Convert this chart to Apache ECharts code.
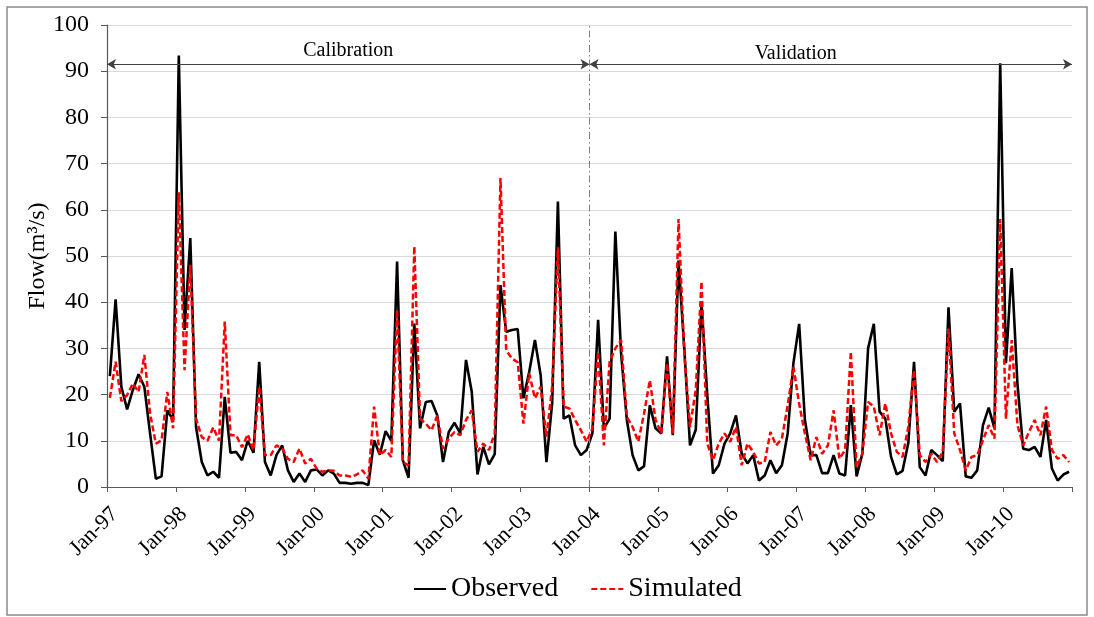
<!DOCTYPE html>
<html>
<head>
<meta charset="utf-8">
<title>Flow</title>
<script src="https://cdn.jsdelivr.net/npm/echarts@6/dist/echarts.min.js"></script>
<style>
  html, body { margin: 0; padding: 0; background: #fff; }
  #chart { width: 1094px; height: 617px; }
</style>
</head>
<body>
<div id="chart"></div>
<script>
// tick labels, one per year (every 12 months)
var yearLabels = ['Jan-97', 'Jan-98', 'Jan-99', 'Jan-00', 'Jan-01', 'Jan-02', 'Jan-03',
  'Jan-04', 'Jan-05', 'Jan-06', 'Jan-07', 'Jan-08', 'Jan-09', 'Jan-10']

// monthly flow, Jan-97 .. Dec-10 (m3/s)
var observed = [
  24, 40.6, 21.7, 16.8, 21, 24.4, 21.7, 11.6, 1.8, 2.3, 16.6, 14.5,
  93.4, 34, 53.9, 13, 5.4, 2.5, 3.3, 2, 19.5, 7.4, 7.6, 5.8,
  10, 7.4, 27.1, 5.4, 2.5, 6.9, 9, 3.6, 1.1, 2.9, 1.1, 3.6,
  3.8, 2.5, 3.6, 2.9, 0.9, 0.9, 0.7, 0.9, 0.9, 0.4, 10.1, 7,
  12.1, 10, 48.8, 5.8, 2, 35.4, 12.7, 18.4, 18.6, 15.5, 5.4, 11.9,
  13.9, 11.6, 27.5, 20.6, 2.7, 8.7, 4.9, 7.1, 43.7, 33.6, 34, 34.2,
  19.2, 24.9, 31.8, 24.2, 5.4, 18.1, 61.8, 14.8, 15.5, 9, 6.9, 8,
  11.6, 36.2, 12.7, 14.8, 55.3, 28.9, 14.5, 6.9, 3.6, 4.5, 17.7, 12.7,
  11.6, 28.3, 11.2, 49, 30, 9, 12.4, 39.8, 20, 2.9, 4.7, 9.4,
  11.6, 15.5, 7.2, 5.1, 6.9, 1.4, 2.5, 5.8, 3, 4.7, 11.6, 26.8,
  35.3, 14.5, 6.9, 6.9, 3, 3, 6.9, 2.9, 2.5, 17.7, 2.3, 7.2,
  30, 35.3, 16.3, 14.8, 6.5, 2.7, 3.5, 9.5, 27.1, 4.3, 2.5, 8,
  6.9, 5.6, 38.9, 16.3, 18.1, 2.3, 2, 3.6, 13.4, 17.2, 12.7, 91.7,
  26.8, 47.4, 22.4, 8.3, 8, 8.7, 6.5, 14.5, 4, 1.4, 2.7, 3.3
]
var simulated = [
  19.3, 27.1, 18.6, 19.9, 22.4, 20.6, 28.6, 15.9, 9.4, 10.1, 20.6, 12.7,
  63.8, 25.3, 48.1, 14.8, 10.8, 10, 12.9, 10, 35.8, 11.2, 11.2, 8.6,
  11.4, 8, 21.7, 6.9, 6.9, 9, 8.3, 6.1, 5.4, 8.3, 5.1, 6.1,
  4, 3.3, 3.6, 3.5, 2.5, 2.5, 2.2, 2.7, 3.6, 1.8, 17.4, 6.9,
  8, 6.5, 38.3, 5.4, 4.7, 52.1, 14.8, 13.7, 12.3, 15.5, 8.3, 10.5,
  11.9, 11.2, 14.5, 16.6, 7.6, 9.4, 8, 11.6, 66.9, 29.6, 27.8, 27,
  13.7, 24.6, 19.2, 21.7, 10.8, 21.7, 51.9, 17.4, 17, 14.5, 12.3, 9.8,
  12.7, 29.3, 9, 27.1, 30, 31.8, 15.2, 13, 9.8, 15.9, 23.1, 14.5,
  11.6, 26.8, 11.6, 58, 28.9, 13, 21, 44.5, 9.4, 5.8, 9.4, 11.6,
  9.8, 13, 4.7, 9.4, 7.6, 5.1, 5.4, 11.9, 9, 10.5, 17.7, 26,
  18, 11.6, 5.8, 10.8, 7.2, 9, 16.6, 6.1, 8, 29.3, 4.3, 7.2,
  18.4, 17.4, 11.2, 18.1, 11.6, 7.6, 6.5, 13, 25.3, 6.9, 5.4, 7.2,
  5.4, 7.6, 34.3, 11.6, 8, 3.6, 6.5, 6.9, 10.1, 13.4, 10.5, 58,
  14.8, 31.8, 13.4, 9, 11.9, 14.5, 11.2, 17.4, 8, 6.1, 6.9, 5.4
]

// calibration / validation split (month index) and arrow height
var splitMonth = 84
var periodLevel = 91.5

var serif = 'Liberation Serif, Times New Roman, serif'

// each month sits in the middle of its band, like the excel date axis
function toPoints(arr) {
  return arr.map(function(v, i) { return [i + 0.5, v] })
}

var chart = echarts.init(document.getElementById('chart'))
chart.setOption({
  animation: false,
  backgroundColor: '#fff',
  graphic: [{
    type: 'rect',
    shape: { x: 7, y: 7, width: 1080, height: 608 },
    style: { fill: 'none', stroke: '#8a8a8a', lineWidth: 1.5 },
    silent: true
  }],
  grid: {
    left: 107,
    right: 22,
    top: 25,
    bottom: 130
  },
  legend: {
    bottom: 9,
    left: 408,
    itemWidth: 32,
    itemHeight: 14,
    itemGap: 32,
    itemStyle: { opacity: 0 },
    textStyle: { fontFamily: serif, fontSize: 28, color: '#000' },
    data: ['Observed', 'Simulated']
  },
  xAxis: {
    type: 'value',
    min: 0,
    max: 168,
    interval: 12,
    axisLine: { onZero: false, lineStyle: { color: '#595959', width: 1.2 } },
    axisTick: { show: true, length: 5, lineStyle: { color: '#595959' } },
    splitLine: { show: false },
    axisLabel: {
      rotate: 45,
      margin: 16,
      verticalAlign: 'top',
      fontFamily: serif,
      fontSize: 22,
      color: '#000',
      formatter: function(v) { return yearLabels[v / 12] || '' }
    }
  },
  yAxis: {
    type: 'value',
    min: 0,
    max: 100,
    interval: 10,
    name: 'Flow(m³/s)',
    nameLocation: 'middle',
    nameGap: 57,
    nameMoveOverlap: false,
    nameTextStyle: { fontFamily: serif, fontSize: 24, color: '#000' },
    axisLine: { show: true, lineStyle: { color: '#595959', width: 1.2 } },
    axisTick: { show: true, length: 6, lineStyle: { color: '#595959' } },
    splitLine: { lineStyle: { color: '#d9d9d9', width: 1 } },
    axisLabel: { margin: 18, fontFamily: serif, fontSize: 24, color: '#000' }
  },
  series: [
    {
      name: 'Observed',
      type: 'line',
      symbol: 'none',
      data: toPoints(observed),
      lineStyle: { color: '#000', width: 2.6 },
      itemStyle: { color: '#000' },
      z: 3,
      markLine: {
        silent: true,
        symbol: ['arrow', 'arrow'],
        symbolSize: [8, 9],
        lineStyle: { color: '#404040', width: 1.2, type: 'solid' },
        label: {
          show: true,
          position: 'insideMiddleTop',
          distance: 4,
          fontFamily: serif,
          fontSize: 20,
          color: '#000'
        },
        data: [
          [
            { coord: [0, periodLevel], label: { formatter: 'Calibration' } },
            { coord: [splitMonth, periodLevel] }
          ],
          [
            { coord: [splitMonth, periodLevel], label: { formatter: 'Validation', padding: [0, 70, 0, 0], distance: 1 } },
            { coord: [168, periodLevel] }
          ]
        ]
      }
    },
    {
      name: 'Simulated',
      type: 'line',
      symbol: 'none',
      data: toPoints(simulated),
      lineStyle: { color: '#ff0000', width: 2.5, type: [6, 3] },
      itemStyle: { color: '#ff0000' },
      z: 4,
      markLine: {
        silent: true,
        symbol: ['none', 'none'],
        label: { show: false },
        lineStyle: { color: '#7f7f7f', width: 1, type: [7, 3, 1.5, 3] },
        data: [{ xAxis: splitMonth }]
      }
    }
  ]
})
</script>
</body>
</html>
